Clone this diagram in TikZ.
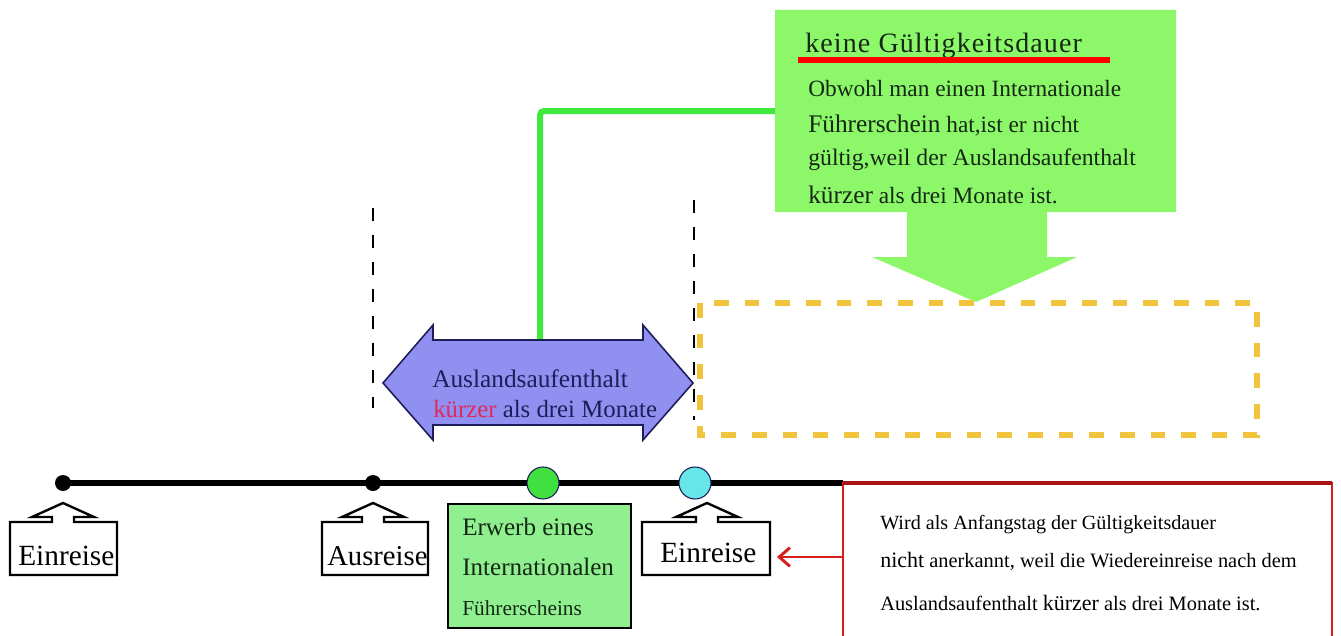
\documentclass[tikz,border=0pt]{standalone}
\usepackage{fontspec}
\setmainfont{Liberation Serif}
\usetikzlibrary{arrows.meta}
\definecolor{callgreen}{RGB}{140,248,105}
\definecolor{linegreen}{RGB}{64,232,64}
\definecolor{boxgreen}{RGB}{144,240,144}
\definecolor{dotgreen}{RGB}{64,224,64}
\definecolor{dotcyan}{RGB}{102,230,230}
\definecolor{lav}{RGB}{144,144,240}
\definecolor{navy}{RGB}{30,30,90}
\definecolor{pinkred}{RGB}{225,40,90}
\definecolor{gold}{RGB}{240,196,60}
\definecolor{boxred}{RGB}{215,30,30}
\definecolor{darkred}{RGB}{170,20,20}
\definecolor{txtgreen}{RGB}{20,40,20}
\newcommand\sz[1]{\fontsize{#1}{#1}\selectfont}
\begin{document}
\begin{tikzpicture}[x=0.75pt,y=-0.75pt,
  txt/.style={anchor=base west,inner sep=0pt},
  labelbox/.style={draw=black,fill=white,line width=1.8pt,line join=miter},
  blackdash/.style={black,line width=1.9pt,dash pattern=on 9.75pt off 10.5pt},
  dot/.style={circle,inner sep=0pt,minimum size=12pt,fill=black}]
\useasboundingbox (0,0) rectangle (1341,635);

% green callout with down arrow
\fill[callgreen] (775,10) -- (1176,10) -- (1176,212) -- (1047,212) -- (1047,257)
  -- (1077,257) -- (976,302) -- (872,257) -- (907,257) -- (907,212) -- (775,212) -- cycle;
\coordinate (calloutW) at (775,111);
\node[txt,font=\sz{21}\addfontfeatures{LetterSpace=4},text=txtgreen] (title) at (805,53) {keine Gültigkeitsdauer};
\draw[red,line width=4pt] (798,60) -- (1110,60);
\node[txt,font=\sz{17.5},text=txtgreen] (c1) at (808,97) {Obwohl man einen Internationale};
\node[txt,font=\sz{17.5},text=txtgreen] (c2) at (808,132) {{\sz{19}Führerschein} hat,ist er nicht};
\node[txt,font=\sz{17.8},text=txtgreen] (c3) at (808,165) {gültig,weil der Auslandsaufenthalt};
\node[txt,font=\sz{17.5},text=txtgreen] (c4) at (808,203) {{\sz{19}kürzer} als drei Monate ist.};

% dashed vertical lines
\draw[blackdash] (373,208) -- (373,408);
\draw[blackdash] (694,200) -- (694,420);

% yellow dashed rectangle
\draw[gold,line width=4pt,dash pattern=on 11pt off 12pt] (700,303) rectangle (1257,435);

% green connector
\coordinate (blueTop) at (540,340);
\draw[linegreen,line width=4.5pt,rounded corners=3pt] (blueTop) |- (calloutW);

% blue double arrow
\filldraw[fill=lav,draw=navy,line width=1.2pt] (383,383) -- (433,325) -- (433,340) -- (643,340)
  -- (643,325) -- (693,383) -- (643,440) -- (643,425) -- (433,425) -- (433,440) -- cycle;
\node[txt,font=\sz{19},text=navy] (b1) at (432,387) {Auslandsaufenthalt};
\node[txt,font=\sz{18.6},text=navy] (b2) at (433,417) {{\color{pinkred}kürzer} als drei Monate};

% timeline
\draw[line width=4.5pt] (63,483) -- (843,483);
\node[dot] (d1) at (63,483) {};
\node[dot] (d2) at (373,483) {};
\node[circle,inner sep=0pt,minimum size=24pt,fill=dotgreen,draw=navy,line width=0.8pt] (d3) at (543,483) {};
\node[circle,inner sep=0pt,minimum size=24pt,fill=dotcyan,draw=navy,line width=0.8pt] (d4) at (695,483) {};

% label boxes with up arrows
\draw[labelbox] (10,575) -- (10,522) -- (52,522) -- (52,517) -- (32,517) -- (63,503) -- (94,517)
  -- (74,517) -- (74,522) -- (117,522) -- (117,575) -- cycle;
\node[txt,font=\sz{22}] (e1) at (18,565) {Einreise};
\draw[labelbox] (322,575) -- (322,522) -- (362,522) -- (362,517) -- (342,517) -- (373,503) -- (404,517)
  -- (384,517) -- (384,522) -- (428,522) -- (428,575) -- cycle;
\node[txt,font=\sz{21.5}] (a1) at (327,565) {Ausreise};
\draw[labelbox] (642,575) -- (642,522) -- (696,522) -- (696,517) -- (676,517) -- (707,503) -- (738,517)
  -- (718,517) -- (718,522) -- (770,522) -- (770,575) -- cycle;
\node[txt,font=\sz{22}] (e2) at (660,562) {Einreise};

% Erwerb box
\node[draw=black,fill=boxgreen,line width=1.5pt,anchor=north west,inner sep=0pt,
  minimum width=137pt,minimum height=93pt] (erwerb) at (447,503) {};
\node[txt,font=\sz{18.8},text=txtgreen] (w1) at (462,535) {Erwerb eines};
\node[txt,font=\sz{18.8},text=txtgreen] (w2) at (462,575) {Internationalen};
\node[txt,font=\sz{16},text=txtgreen] (w3) at (462,615) {Führerscheins};

% red box
\draw[boxred,line width=2.2pt] (843,645) -- (843,483) -- (1332,483) -- (1332,645);
\draw[darkred,line width=3pt] (843,483) -- (1332,483);
\node[txt,font=\sz{15.1}] (r1) at (880,529) {Wird als Anfangstag der Gültigkeitsdauer};
\node[txt,font=\sz{15.3}] (r2) at (880,567) {{\sz{16.5}nicht} anerkannt, weil die Wiedereinreise nach dem};
\node[txt,font=\sz{15.3}] (r3) at (880,610) {Auslandsaufenthalt {\sz{16.5}kürzer} als drei Monate ist.};
\coordinate (redL) at (843,557);
\coordinate (e2E) at (777,557);
\draw[boxred,line width=2.2pt,-{Straight Barb[length=8pt,width=14pt]}] (redL) -- (e2E);
\end{tikzpicture}
\end{document}
